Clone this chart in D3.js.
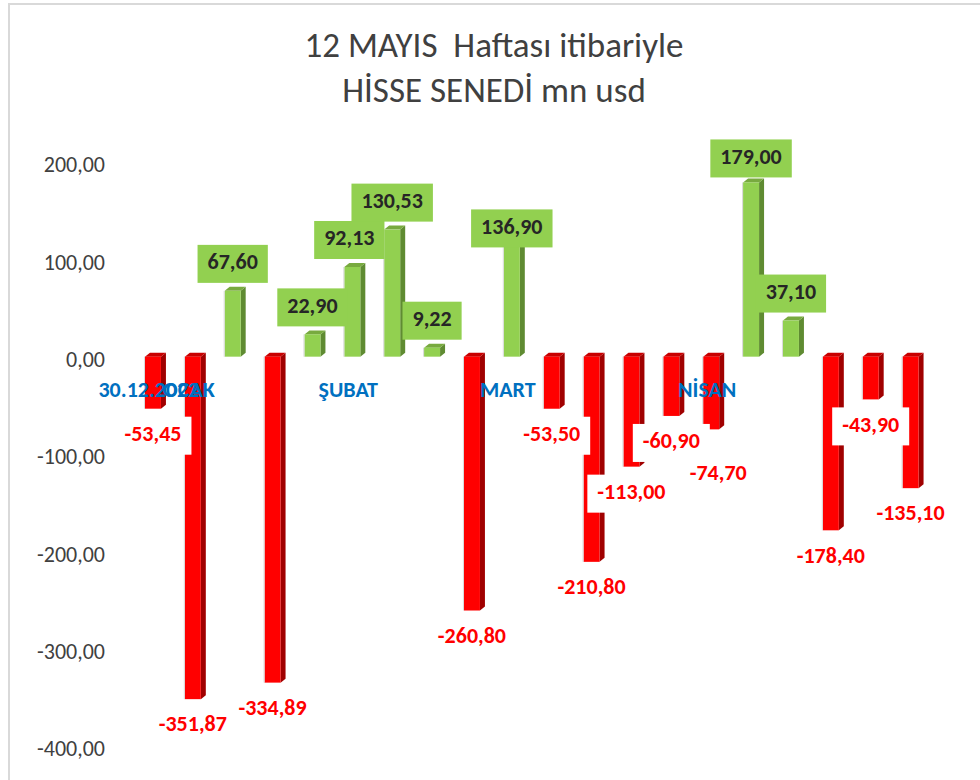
<!DOCTYPE html>
<html>
<head>
<meta charset="utf-8">
<script src="https://cdn.jsdelivr.net/npm/d3@7"></script>
<style>
  body { margin: 0; background: #fff; }
  text { font-family: Carlito, Lato, sans-serif; white-space: pre; }
</style>
</head>
<body>
<div id="app"></div>
<script>
// data
const titleLines = ["12 MAYIS  Haftası itibariyle", "HİSSE SENEDİ mn usd"];
const categories = ["30.12.2022", "OCAK", "", "", "", "ŞUBAT", "", "", "", "MART",
  "", "", "", "", "NİSAN", "", "", "", "", ""];
const values = [-53.45, -351.87, 67.60, -334.89, 22.90, 92.13, 130.53, 9.22, -260.80, 136.90,
  -53.50, -210.80, -113.00, -60.90, -74.70, 179.00, 37.10, -178.40, -43.90, -135.10];
const yTicks = [-400, -300, -200, -100, 0, 100, 200];

// label nudges (layout only)
const labelNudge = values.map(() => [0, 0]);
labelNudge[5] = [-3, 0];
labelNudge[9] = [0, 32];
labelNudge[14] = [7, 18];
labelNudge[15] = [0, 3];

const width = 980, height = 780;
const depthX = 5, depthY = -4; // 3D奥行き
const barW = 16;

const trFormat = d3.formatLocale({ decimal: ",", thousands: ".", grouping: [3], currency: ["", ""], minus: "-" }).format(".2f");

const svg = d3.select("#app").append("svg")
  .attr("width", width)
  .attr("height", height);

svg.append("rect").attr("width", width).attr("height", height).attr("fill", "#fff");

// 枠線
svg.append("path")
  .attr("d", `M9,${height} V4 H${width}`)
  .attr("fill", "none")
  .attr("stroke", "#d9d9d9")
  .attr("stroke-width", 2);

// タイトル
svg.append("g").selectAll("text")
  .data(titleLines)
  .join("text")
  .attr("x", 494)
  .attr("y", (d, i) => 49 + i * 45)
  .attr("text-anchor", "middle")
  .attr("dominant-baseline", "middle")
  .attr("font-size", 35)
  .attr("fill", "#404040")
  .text(d => d);

const x = d3.scaleBand()
  .domain(d3.range(values.length))
  .range([133, 930.5]);

const y = d3.scaleLinear()
  .domain([-400, 200])
  .range([746, 162]);

// y軸ラベル
svg.append("g").selectAll("text")
  .data(yTicks)
  .join("text")
  .attr("x", 105)
  .attr("y", d => y(d) + 5)
  .attr("text-anchor", "end")
  .attr("dominant-baseline", "middle")
  .attr("font-size", 22)
  .attr("fill", "#404040")
  .text(d => trFormat(d));

const colors = {
  pos: { front: "#92d050", side: "#5f8b32", top: "#78aa3f" },
  neg: { front: "#ff0000", side: "#a00000", top: "#c80000" }
};

svg.append("g").selectAll("g")
  .data(values)
  .join("g")
  .each(function (v, i) {
    const g = d3.select(this);
    const c = v >= 0 ? colors.pos : colors.neg;
    const x0 = x(i) + (x.bandwidth() - barW) / 2;
    const x1 = x0 + barW;
    const yTop = Math.min(y(v), y(0));
    const yBot = Math.max(y(v), y(0));
    // 側面
    g.append("path")
      .attr("d", `M${x1},${yTop} L${x1 + depthX},${yTop + depthY} L${x1 + depthX},${yBot + depthY} L${x1},${yBot} Z`)
      .attr("fill", c.side);
    // 上面
    g.append("path")
      .attr("d", `M${x0},${yTop} L${x0 + depthX},${yTop + depthY} L${x1 + depthX},${yTop + depthY} L${x1},${yTop} Z`)
      .attr("fill", c.top);
    // 前面
    g.append("rect")
      .attr("x", x0)
      .attr("y", yTop)
      .attr("width", barW)
      .attr("height", yBot - yTop)
      .attr("fill", c.front);
    // 左の薄い影
    g.append("line")
      .attr("x1", x0 - 0.5).attr("x2", x0 - 0.5)
      .attr("y1", yTop).attr("y2", yBot)
      .attr("stroke", "#d8d8d8")
      .attr("stroke-width", 1);
  });

// カテゴリラベル
svg.append("g").selectAll("text")
  .data(categories)
  .join("text")
  .attr("x", (d, i) => x(i) + x.bandwidth() / 2 - 4)
  .attr("y", y(0) + 35)
  .attr("text-anchor", "middle")
  .attr("dominant-baseline", "middle")
  .attr("font-size", 22)
  .attr("font-weight", "bold")
  .attr("fill", "#0070c0")
  .text(d => d);

// 値ラベル
const labels = svg.append("g").selectAll("g")
  .data(values)
  .join("g")
  .attr("transform", (v, i) => {
    const cx = x(i) + x.bandwidth() / 2 + labelNudge[i][0];
    const cy = y(v) + (v >= 0 ? -27 : 27) + labelNudge[i][1];
    return `translate(${cx},${cy})`;
  });

labels.append("text")
  .attr("text-anchor", "middle")
  .attr("dominant-baseline", "middle")
  .attr("font-size", 22)
  .attr("font-weight", "bold")
  .attr("fill", v => v >= 0 ? "#262626" : "#ff0000")
  .text(v => trFormat(v))
  .each(function (v) {
    const bb = this.getBBox();
    d3.select(this.parentNode).insert("rect", "text")
      .attr("x", -bb.width / 2 - 10)
      .attr("y", -19)
      .attr("width", bb.width + 20)
      .attr("height", 38)
      .attr("fill", v >= 0 ? "#92d050" : "#fff");
  });
</script>
</body>
</html>
